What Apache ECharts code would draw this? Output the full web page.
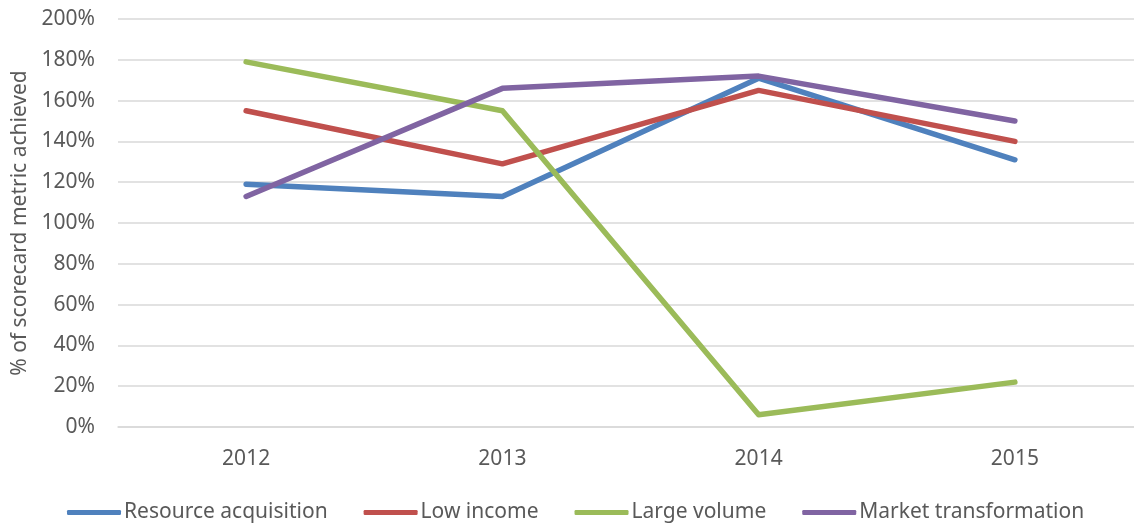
<!DOCTYPE html>
<html><head><meta charset="utf-8">
<script src="https://cdn.jsdelivr.net/npm/echarts@6/dist/echarts.min.js"></script>
<style>html,body{margin:0;padding:0;background:#fff;overflow:hidden}#c{width:1144px;height:523px}</style>
</head><body><div id="c"></div>
<script>
const categories = ['2012', '2013', '2014', '2015'];
const resourceAcquisition = [119, 113, 171, 131];
const lowIncome = [155, 129, 165, 140];
const largeVolume = [179, 155, 6, 22];
const marketTransformation = [113, 166, 172, 150];
const seriesNames = ['Resource acquisition', 'Low income', 'Large volume', 'Market transformation'];
const colors = ['#4F81BD', '#C0504D', '#9BBB59', '#8064A2'];

const font = 'Noto Sans';
const chart = echarts.init(document.getElementById('c'));
const mk = (name, data, i) => ({
  name, type: 'line', data, symbol: 'none', color: colors[i],
  lineStyle: { width: 5.5, color: colors[i], cap: 'round', join: 'round' }
});
chart.setOption({
  animation: false,
  grid: { left: 118, top: 19, right: 1, height: 408, containLabel: false },
  legend: {
    top: 502, left: 67, padding: 0, itemWidth: 54, itemHeight: 5, itemGap: 36,
    icon: 'roundRect',
    textStyle: { color: '#595959', fontSize: 21, fontFamily: font, padding: [0, 0, 0, -2] },
    data: seriesNames
  },
  xAxis: {
    type: 'category', data: categories, boundaryGap: true,
    axisLine: { show: true, lineStyle: { color: '#d9d9d9', width: 1.5 } },
    axisTick: { show: false },
    axisLabel: { color: '#595959', fontSize: 21, fontFamily: font, margin: 22 }
  },
  yAxis: {
    type: 'value', min: 0, max: 200, interval: 20,
    name: '% of scorecard metric achieved', nameLocation: 'middle', nameGap: 81,
    nameTextStyle: { color: '#595959', fontSize: 21, fontFamily: font },
    axisLine: { show: false }, axisTick: { show: false },
    splitLine: { lineStyle: { color: '#d9d9d9', width: 1.5 } },
    axisLabel: { color: '#595959', fontSize: 21, fontFamily: font, margin: 23, formatter: '{value}%' }
  },
  series: [
    mk(seriesNames[0], resourceAcquisition, 0),
    mk(seriesNames[1], lowIncome, 1),
    mk(seriesNames[2], largeVolume, 2),
    mk(seriesNames[3], marketTransformation, 3)
  ]
});
</script></body></html>
